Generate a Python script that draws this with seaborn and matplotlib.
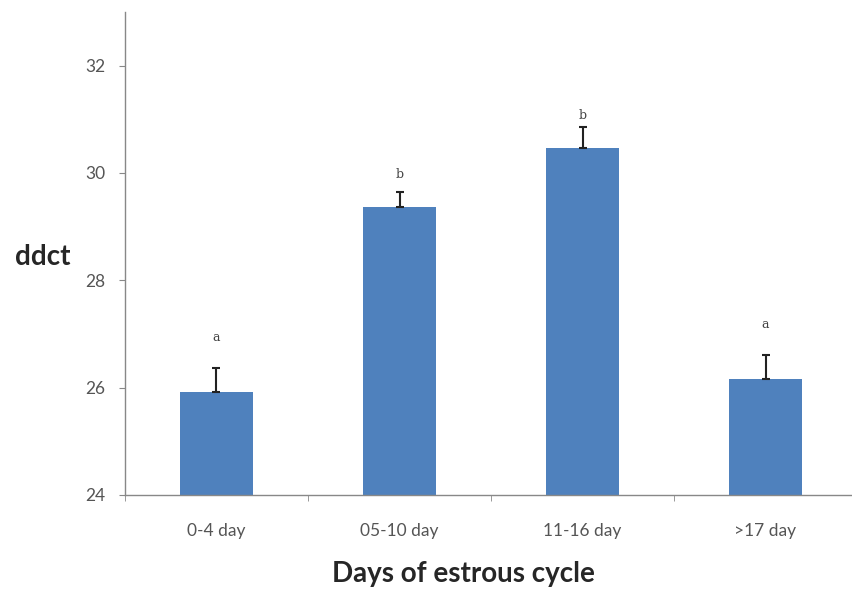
import pandas as pd
import numpy as np
import matplotlib.pyplot as plt
import seaborn as sns

sns.set_style("white")
plt.rcParams['font.family'] = ['Lato', 'DejaVu Sans']

days = ["0-4 day", "05-10 day", "11-16 day", ">17 day"]
ddct = [25.92, 29.37, 30.46, 26.16]
err = [0.45, 0.27, 0.40, 0.44]
letters = ["a", "b", "b", "a"]
letter_y = [26.93, 29.98, 31.08, 27.18]

df = pd.DataFrame({"day": days, "ddct": ddct})

fig = plt.figure(figsize=(8.52, 5.92), dpi=100)
ax = fig.add_axes([0.1467, 0.164, 0.8592, 0.8157])

sns.barplot(data=df, x="day", y="ddct", color="#4F81BD", saturation=1,
            width=0.40, ax=ax, errorbar=None)
for p in ax.patches:
    p.set_edgecolor("none")

x = np.arange(len(days))
ax.errorbar(x, ddct, yerr=[np.zeros(len(err)), err], fmt="none",
            ecolor="#222222", elinewidth=1.5, capsize=3, capthick=1.5)

for xi, yl, t in zip(x, letter_y, letters):
    ax.text(xi, yl, t, ha="center", va="center", fontsize=9,
            family=["DejaVu Serif"], color="#444444")

ax.set_ylim(24, 33)
ax.set_xlim(-0.5, 3.5)
ax.set_yticks([24, 26, 28, 30, 32])
ax.set_xticks([-0.5, 0.5, 1.5, 2.5], minor=True)

sns.despine(ax=ax)
for s in ["left", "bottom"]:
    ax.spines[s].set_color("#888888")
    ax.spines[s].set_linewidth(1)

ax.tick_params(axis="y", which="major", left=True, length=4, color="#888888",
               labelsize=12.5, labelcolor="#555555", pad=10)
ax.tick_params(axis="x", which="major", bottom=False, labelsize=12.5,
               labelcolor="#555555", pad=17)
ax.tick_params(axis="x", which="minor", bottom=True, length=4, color="#888888")

ax.set_xlabel("Days of estrous cycle", fontsize=20, fontweight="bold")
ax.xaxis.set_label_coords(0.462, -0.163)
ax.set_ylabel("ddct", fontsize=20, fontweight="bold", rotation=0)
ax.yaxis.set_label_coords(-0.113, 0.493)
ax.yaxis.label.set_verticalalignment("center")
ax.yaxis.label.set_horizontalalignment("center")
ax.xaxis.label.set_verticalalignment("center")

plt.savefig("out.png", dpi=100)
